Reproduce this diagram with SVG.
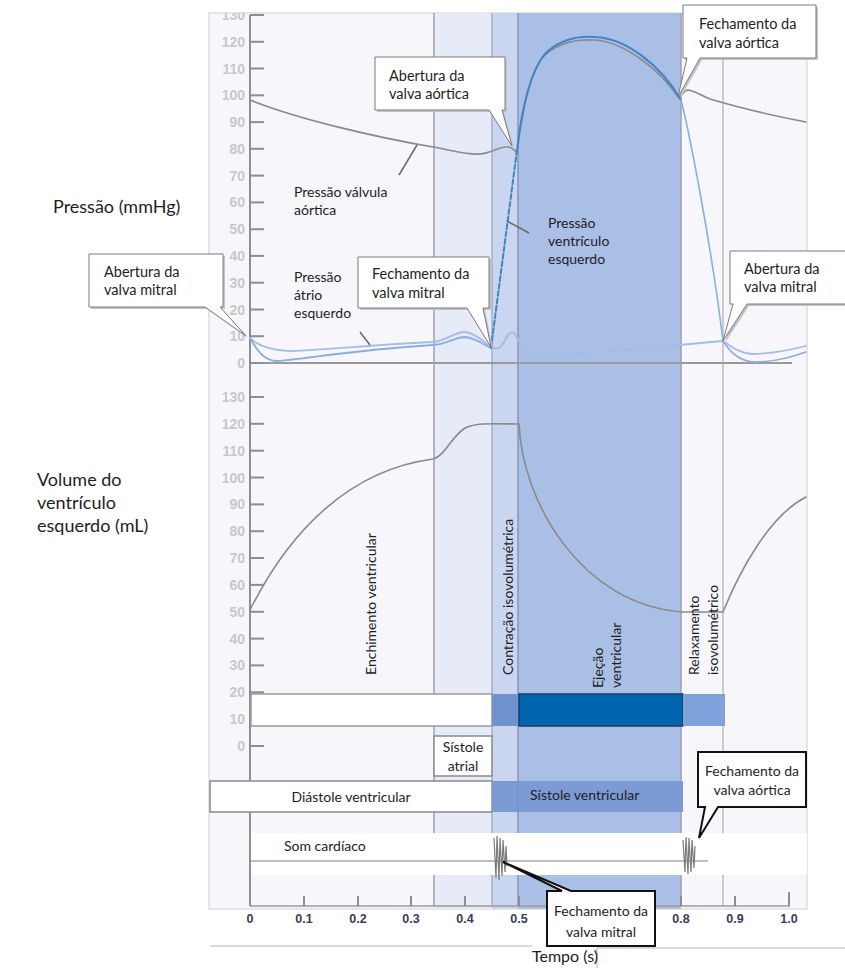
<svg xmlns="http://www.w3.org/2000/svg" width="845" height="968" viewBox="0 0 845 968">
  <style>
    .t { font-family: Lato, "Liberation Sans", sans-serif; fill: #1e1e1e; }
    .ax { font-family: "Liberation Sans", Arial, sans-serif; font-weight: bold; fill: #c8c8c8; font-size: 14px; text-anchor: end; }
    .xt { font-family: "Liberation Sans", Arial, sans-serif; font-weight: bold; fill: #3a3a5c; font-size: 12.5px; text-anchor: middle; }
    .tick { stroke: #8e8e8e; stroke-width: 2; }
    .grid { stroke-width: 1.5; fill: none; }
    .call { fill: #fff; stroke: #7a7a7a; stroke-width: 1; }
    .shadow { fill: #c4c4c4; }
    .callk { fill: #fff; stroke: #111; stroke-width: 2; }
    .lead { stroke: #6a6a6a; stroke-width: 1.5; }
  </style>
  <defs>
    <clipPath id="panelClip"><rect x="209" y="13" width="598" height="896"/></clipPath>
  </defs>

  <rect width="845" height="968" fill="#fff"/>

  <!-- chart panel with phase bands -->
  <g id="panel">
    <rect x="209" y="13" width="598" height="896" fill="#f6f6fb" stroke="#dedede" stroke-width="1.5"/>
    <rect x="434" y="13" width="58" height="896" fill="#e7ebf7"/>
    <rect x="492" y="13" width="26" height="896" fill="#cad6f0"/>
    <rect x="518" y="13" width="163" height="896" fill="#aabfe6"/>
    <line class="grid" x1="434" y1="13" x2="434" y2="906" stroke="#a0a0a8"/>
    <line class="grid" x1="492" y1="13" x2="492" y2="906" stroke="#a3afc9"/>
    <line class="grid" x1="518" y1="13" x2="518" y2="906" stroke="#8795b8"/>
    <line class="grid" x1="681" y1="13" x2="681" y2="906" stroke="#9aa1b4"/>
    <line class="grid" x1="723" y1="13" x2="723" y2="906" stroke="#bdbdc2"/>
  </g>

  <!-- heart sound strip -->
  <g id="sound">
    <rect x="250" y="833" width="557" height="42" fill="#ffffff"/>
    <line x1="250" y1="861" x2="708" y2="861" stroke="#a8a8a8" stroke-width="1.5"/>
    <path d="M494,838 L496,878 L497,836 L499,880 L500,838 L502,876 L503,840 L505,872 L506,846 L507,866" fill="none" stroke="#7a7a7a" stroke-width="1.2"/>
    <path d="M683,840 L685,872 L686,837 L688,874 L689,838 L691,872 L692,840 L694,868 L695,846" fill="none" stroke="#7a7a7a" stroke-width="1.2"/>
    <text class="t" x="284" y="851" font-size="14">Som cardíaco</text>
  </g>

  <!-- axes -->
  <g id="axes" clip-path="url(#panelClip)">
    <line x1="250" y1="15" x2="250" y2="906" stroke="#8e8e8e" stroke-width="2"/>
    <line x1="250" y1="363" x2="792" y2="363" stroke="#9a9a9a" stroke-width="2"/>
    <line x1="250" y1="906" x2="790" y2="906" stroke="#9a9a9a" stroke-width="1.5"/>
    <!-- pressure ticks -->
    <g class="tick">
      <line x1="250" y1="15" x2="264" y2="15"/><line x1="250" y1="41.8" x2="264" y2="41.8"/>
      <line x1="250" y1="68.5" x2="264" y2="68.5"/><line x1="250" y1="95.3" x2="264" y2="95.3"/>
      <line x1="250" y1="122.1" x2="264" y2="122.1"/><line x1="250" y1="148.8" x2="264" y2="148.8"/>
      <line x1="250" y1="175.6" x2="264" y2="175.6"/><line x1="250" y1="202.4" x2="264" y2="202.4"/>
      <line x1="250" y1="229.2" x2="264" y2="229.2"/><line x1="250" y1="255.9" x2="264" y2="255.9"/>
      <line x1="250" y1="282.7" x2="264" y2="282.7"/><line x1="250" y1="309.5" x2="264" y2="309.5"/>
      <line x1="250" y1="336.2" x2="264" y2="336.2"/><line x1="250" y1="363" x2="264" y2="363"/>
    </g>
    <g class="ax">
      <text x="245" y="20">130</text><text x="245" y="46.8">120</text><text x="245" y="73.5">110</text>
      <text x="245" y="100.3">100</text><text x="245" y="127.1">90</text><text x="245" y="153.8">80</text>
      <text x="245" y="180.6">70</text><text x="245" y="207.4">60</text><text x="245" y="234.2">50</text>
      <text x="245" y="260.9">40</text><text x="245" y="287.7">30</text><text x="245" y="314.5">20</text>
      <text x="245" y="341.2">10</text><text x="245" y="368">0</text>
    </g>
    <!-- volume ticks -->
    <g class="tick">
      <line x1="250" y1="397" x2="264" y2="397"/><line x1="250" y1="423.8" x2="264" y2="423.8"/>
      <line x1="250" y1="450.7" x2="264" y2="450.7"/><line x1="250" y1="477.5" x2="264" y2="477.5"/>
      <line x1="250" y1="504.4" x2="264" y2="504.4"/><line x1="250" y1="531.2" x2="264" y2="531.2"/>
      <line x1="250" y1="558" x2="264" y2="558"/><line x1="250" y1="584.9" x2="264" y2="584.9"/>
      <line x1="250" y1="611.8" x2="264" y2="611.8"/><line x1="250" y1="638.6" x2="264" y2="638.6"/>
      <line x1="250" y1="665.4" x2="264" y2="665.4"/><line x1="250" y1="692.3" x2="264" y2="692.3"/>
      <line x1="250" y1="719.2" x2="264" y2="719.2"/><line x1="250" y1="746" x2="264" y2="746"/>
    </g>
    <g class="ax">
      <text x="245" y="402">130</text><text x="245" y="428.8">120</text><text x="245" y="455.7">110</text>
      <text x="245" y="482.5">100</text><text x="245" y="509.4">90</text><text x="245" y="536.2">80</text>
      <text x="245" y="563">70</text><text x="245" y="589.9">60</text><text x="245" y="616.8">50</text>
      <text x="245" y="643.6">40</text><text x="245" y="670.4">30</text><text x="245" y="697.3">20</text>
      <text x="245" y="724.2">10</text><text x="245" y="751">0</text>
    </g>
    <!-- time ticks -->
    <g class="tick" stroke-width="1.5">
      <line x1="250" y1="892" x2="250" y2="906"/><line x1="304" y1="896" x2="304" y2="906"/>
      <line x1="358" y1="896" x2="358" y2="906"/><line x1="411" y1="896" x2="411" y2="906"/>
      <line x1="465" y1="896" x2="465" y2="906"/><line x1="519" y1="896" x2="519" y2="906"/>
      <line x1="573" y1="896" x2="573" y2="906"/><line x1="627" y1="896" x2="627" y2="906"/>
      <line x1="681" y1="896" x2="681" y2="906"/><line x1="735" y1="896" x2="735" y2="906"/>
      <line x1="789" y1="892" x2="789" y2="906"/>
    </g>
  </g>
  <g id="time-labels" class="xt">
    <text x="250" y="923">0</text><text x="304" y="923">0.1</text><text x="358" y="923">0.2</text>
    <text x="411" y="923">0.3</text><text x="465" y="923">0.4</text><text x="519" y="923">0.5</text>
    <text x="681" y="923">0.8</text><text x="735" y="923">0.9</text><text x="789" y="923">1.0</text>
  </g>
  <g id="time-title">
    <line x1="210" y1="946" x2="532" y2="946" stroke="#b4b4b4" stroke-width="1"/>
    <polyline points="597,968 597,948 845,948" fill="none" stroke="#b4b4b4" stroke-width="1"/>
    <text class="t" x="565" y="962" font-size="16" text-anchor="middle">Tempo (s)</text>
  </g>

  <!-- pressure and volume traces -->
  <g id="traces" fill="none" stroke-linejoin="round" stroke-linecap="round">
    <path d="M250,338 C258,346 270,350 290,351 C330,350 380,344 433,342 C446,341 454,332 465,332 C476,333 485,343 491,347 C496,350 500,349 504,342 C508,334 511,330 515,334 C520,342 524,356 535,357 C560,355 650,348 723,341 C733,348 740,353 752,354 C772,354 790,350 806,346" stroke="#a3bde6" stroke-width="1.8"/>
    <path d="M250,338 C258,352 265,361 277,361 C300,360 350,350 433,345 C448,344 455,337 465,337 C476,338 486,346 491,348" stroke="#8aaee0" stroke-width="1.8"/>
    <path d="M250,100 C300,120 380,138 433,147 C455,151 468,155 480,154 C490,153 497,148 505,147 C510,146 513,148 517,153 C521,120 528,78 542,58 C556,43 575,39 595,40 C625,42 660,70 679,98 C682,96 684,90 688,90 C695,91 700,95 710,99 C740,108 780,117 806,122" stroke="#8a8a8a" stroke-width="1.6"/>
    <path d="M491,348 L517,150" stroke="#4284c9" stroke-width="2" stroke-dasharray="5 2.5"/>
    <path d="M517,150 C522,106 530,73 544,55 C558,40 578,36 595,37 C625,38 660,64 681,100" stroke="#4284c9" stroke-width="2"/>
    <path d="M681,100 C690,135 712,250 723,341 C730,352 740,362 755,362 C775,362 795,356 806,352" stroke="#89b0e2" stroke-width="1.6"/>
    <path d="M250,610 C290,530 350,470 433,459 C445,456 451,437 465,428 C478,422 495,424 519,424 C522,500 580,605 683,612 L723,612 C740,570 770,515 806,497" stroke="#8a8a8a" stroke-width="1.6"/>
  </g>

  <!-- trace labels -->
  <g id="trace-labels">
    <line class="lead" x1="417" y1="145" x2="399" y2="175"/>
    <text class="t" x="294" y="197" font-size="14">Pressão válvula</text>
    <text class="t" x="294" y="215" font-size="14">aórtica</text>
    <line class="lead" x1="360" y1="332" x2="370" y2="345"/>
    <text class="t" x="294" y="282" font-size="14">Pressão</text>
    <text class="t" x="294" y="300" font-size="14">átrio</text>
    <text class="t" x="294" y="318" font-size="14">esquerdo</text>
    <line class="lead" x1="507" y1="221" x2="529" y2="233"/>
    <text class="t" x="548" y="228" font-size="14">Pressão</text>
    <text class="t" x="548" y="246" font-size="14">ventrículo</text>
    <text class="t" x="548" y="264" font-size="14">esquerdo</text>
  </g>

  <!-- axis titles -->
  <g id="axis-titles">
    <text class="t" x="53" y="213" font-size="18">Pressão (mmHg)</text>
    <text class="t" x="37" y="486" font-size="18">Volume do</text>
    <text class="t" x="37" y="509" font-size="18">ventrículo</text>
    <text class="t" x="37" y="532" font-size="18">esquerdo (mL)</text>
  </g>

  <!-- phase bars -->
  <g id="phase-bars">
    <rect x="251" y="694" width="241" height="32" fill="#fff" stroke="#9a9a9a" stroke-width="1.5"/>
    <rect x="492" y="694" width="27" height="32" fill="#6f93cd"/>
    <rect x="519" y="694" width="164" height="32" fill="#0064af" stroke="#1f3c60" stroke-width="1.5"/>
    <rect x="683" y="694" width="42" height="32" fill="#7ea2d9"/>
  </g>

  <g id="atrial-systole">
    <rect x="434" y="736" width="58" height="40" fill="#fff" stroke="#8a8a8a" stroke-width="1.5"/>
    <text class="t" x="463" y="752" font-size="14" text-anchor="middle">Sístole</text>
    <text class="t" x="463" y="771" font-size="14" text-anchor="middle">atrial</text>
  </g>

  <g id="ventricular-diastole">
    <rect x="210" y="781" width="282" height="31" fill="#fff" stroke="#8a8a8a" stroke-width="1.5"/>
    <text class="t" x="351" y="802" font-size="14" text-anchor="middle">Diástole ventricular</text>
  </g>

  <g id="ventricular-systole">
    <rect x="492" y="781" width="191" height="31" fill="#7c9bd5"/>
    <line x1="518" y1="781" x2="518" y2="812" stroke="#6f8cc6" stroke-width="1"/>
    <text class="t" x="530" y="800" font-size="14">Sístole ventricular</text>
  </g>

  <!-- phase names -->
  <g id="phase-names" class="t" font-size="14">
    <text transform="translate(376,675) rotate(-90)">Enchimento ventricular</text>
    <text transform="translate(513,675) rotate(-90)">Contração isovolumétrica</text>
    <text transform="translate(603,688) rotate(-90)">Ejeção</text>
    <text transform="translate(621,688) rotate(-90)">ventricular</text>
    <text transform="translate(699,675) rotate(-90)">Relaxamento</text>
    <text transform="translate(718,675) rotate(-90)">isovolumétrico</text>
  </g>

  <!-- event callouts -->
  <g id="callout-aortic-open">
    <path class="shadow" d="M377,59 H507 V112 H504 L514,148 L491,112 H377 Z"/>
    <path class="call" d="M375,57 H505 V110 H502 L512,146 L489,110 H375 Z"/>
    <text class="t" x="389" y="81" font-size="14.5">Abertura da</text>
    <text class="t" x="389" y="99" font-size="14.5">valva aórtica</text>
  </g>

  <g id="callout-aortic-close">
    <path class="shadow" d="M685,7 H818 V60 H702 L680,99 L689,60 H685 Z"/>
    <path class="call" d="M683,5 H816 V58 H700 L678,97 L687,58 H683 Z"/>
    <text class="t" x="699" y="29" font-size="14.5">Fechamento da</text>
    <text class="t" x="699" y="48" font-size="14.5">valva aórtica</text>
  </g>

  <g id="callout-mitral-open-left">
    <path class="shadow" d="M91,256 H225 V309 H222 L248,338 L207,309 H91 Z"/>
    <path class="call" d="M89,254 H223 V307 H220 L246,336 L205,307 H89 Z"/>
    <text class="t" x="104" y="277" font-size="14.5">Abertura da</text>
    <text class="t" x="104" y="295" font-size="14.5">valva mitral</text>
  </g>

  <g id="callout-mitral-close">
    <path class="shadow" d="M360,259 H491 V310 H485 L493,349 L469,310 H360 Z"/>
    <path class="call" d="M358,257 H489 V308 H483 L491,347 L467,308 H358 Z"/>
    <text class="t" x="372" y="279" font-size="14.5">Fechamento da</text>
    <text class="t" x="372" y="298" font-size="14.5">valva mitral</text>
  </g>

  <g id="callout-mitral-open-right">
    <path class="shadow" d="M732,253 H852 V306 H749 L725,343 L735,306 H732 Z"/>
    <path class="call" d="M730,251 H850 V304 H747 L723,341 L733,304 H730 Z"/>
    <text class="t" x="744" y="274" font-size="14.5">Abertura da</text>
    <text class="t" x="744" y="292" font-size="14.5">valva mitral</text>
  </g>

  <g id="callout-aortic-close-sound">
    <path class="callk" d="M698,752 H806 V807 H718 L699,838 L705,807 H698 Z"/>
    <text class="t" x="752" y="776" font-size="14" text-anchor="middle">Fechamento da</text>
    <text class="t" x="752" y="795" font-size="14" text-anchor="middle">valva aórtica</text>
  </g>

  <g id="callout-mitral-close-sound">
    <path class="callk" d="M547,891 H562 L503,862 L571,891 H655 V946 H547 Z"/>
    <text class="t" x="601" y="916" font-size="14" text-anchor="middle">Fechamento da</text>
    <text class="t" x="601" y="937" font-size="14" text-anchor="middle">valva mitral</text>
  </g>
</svg>
